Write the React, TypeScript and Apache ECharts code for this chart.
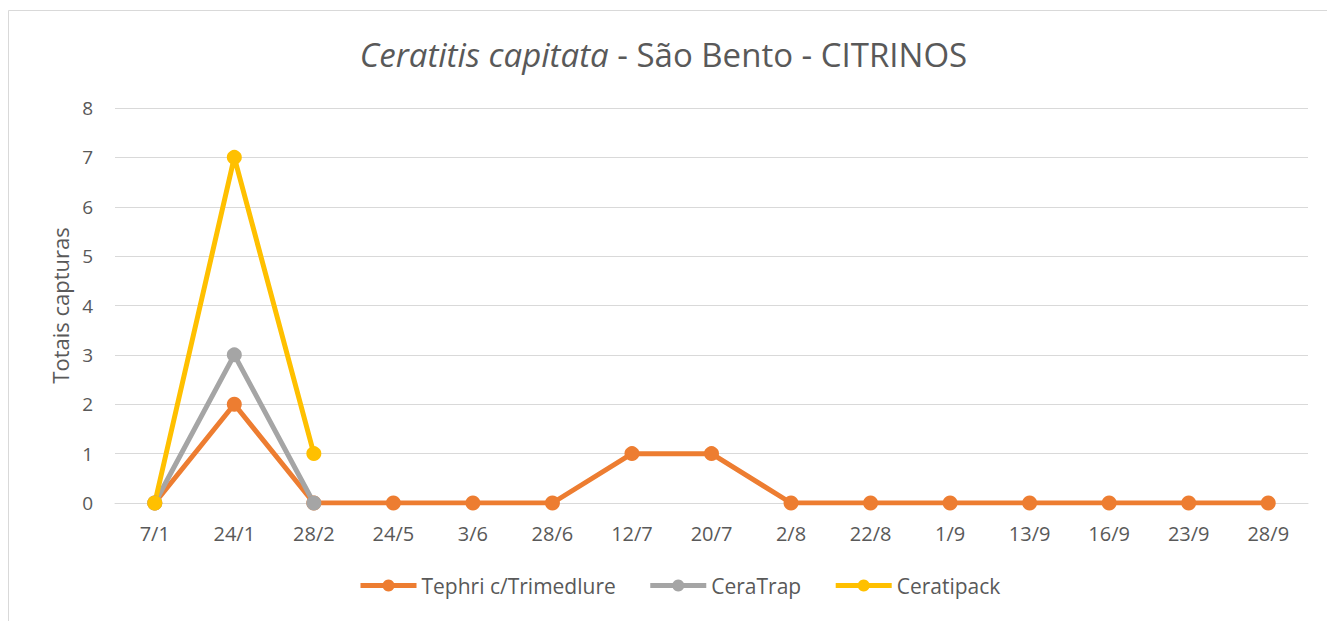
import React, { useEffect, useRef } from "react";
import * as echarts from "echarts";

const categories = ["7/1", "24/1", "28/2", "24/5", "3/6", "28/6", "12/7", "20/7", "2/8", "22/8", "1/9", "13/9", "16/9", "23/9", "28/9"];
const tephri = [0, 2, 0, 0, 0, 0, 1, 1, 0, 0, 0, 0, 0, 0, 0];
const ceraTrap = [0, 3, 0, null, null, null, null, null, null, null, null, null, null, null, null];
const ceratipack = [0, 7, 1, null, null, null, null, null, null, null, null, null, null, null, null];
const seriesNames = ["Tephri c/Trimedlure", "CeraTrap", "Ceratipack"];
const colors = ["#ED7D31", "#A5A5A5", "#FFC000"];

const FONT = "'Open Sans', 'Noto Sans', sans-serif";

export default function App() {
  const ref = useRef<HTMLDivElement>(null);
  useEffect(() => {
    if (!ref.current) return;
    const chart = echarts.init(ref.current, null, { renderer: "svg" });
    const datasets = [tephri, ceraTrap, ceratipack];
    chart.setOption({
      animation: false,
      backgroundColor: "#fff",
      textStyle: { fontFamily: FONT },
      title: {
        text: "{i|Ceratitis capitata}{n| - São Bento - CITRINOS}",
        left: "center",
        top: 33,
        textStyle: {
          fontWeight: "normal",
          rich: {
            i: { fontStyle: "italic", fontWeight: "normal", fontSize: 33, color: "#595959", fontFamily: FONT },
            n: { fontWeight: "normal", fontSize: 33, color: "#595959", fontFamily: FONT },
          },
        },
      },
      graphic: [
        {
          type: "rect",
          shape: { x: 8.5, y: 10.5, width: 1340, height: 640 },
          style: { fill: "none", stroke: "#D9D9D9", lineWidth: 1 },
          silent: true,
        },
      ],
      legend: {
        bottom: 20,
        left: 353,
        itemWidth: 56,
        itemHeight: 15,
        itemGap: 32,
        lineStyle: { width: 5 },
        textStyle: { color: "#595959", fontSize: 21, fontFamily: FONT },
        data: seriesNames,
      },
      grid: { left: 115, right: 19, top: 108, bottom: 118, containLabel: false },
      xAxis: {
        type: "category",
        data: categories,
        boundaryGap: true,
        axisLine: { show: true, lineStyle: { color: "#D9D9D9", width: 1 } },
        axisTick: { show: false },
        axisLabel: { color: "#595959", fontSize: 20, margin: 20, fontFamily: FONT },
      },
      yAxis: {
        type: "value",
        min: 0,
        max: 8,
        interval: 1,
        name: "Totais capturas",
        nameLocation: "middle",
        nameGap: 44,
        nameRotate: 90,
        nameTextStyle: { color: "#595959", fontSize: 22, fontFamily: FONT },
        axisLine: { show: false },
        axisTick: { show: false },
        axisLabel: { color: "#595959", fontSize: 19, margin: 22, fontFamily: FONT },
        splitLine: { lineStyle: { color: "#D9D9D9", width: 1 } },
      },
      series: datasets.map((d, i) => ({
        name: seriesNames[i],
        type: "line",
        data: d,
        symbol: "circle",
        symbolSize: 15,
        connectNulls: false,
        itemStyle: { color: colors[i] },
        lineStyle: { color: colors[i], width: 5 },
      })),
    });
    return () => chart.dispose();
  }, []);
  return (
    <div
      ref={ref}
      style={{ position: "fixed", left: 0, top: 0, width: 1327, height: 621 }}
    />
  );
}
